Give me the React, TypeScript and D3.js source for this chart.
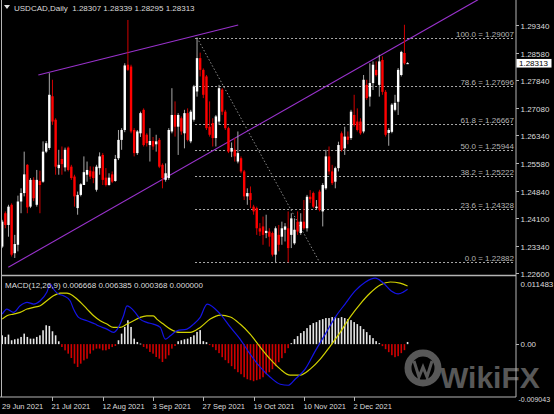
import React from "react";
import * as d3 from "d3";

const W = 554;
const H = 414;

// ---------- DATA ----------
// Daily USDCAD candles [open, high, low, close], 29 Jun 2021 onward
const OHLC: [number, number, number, number][] = [
  [1.2331, 1.2404, 1.2327, 1.2399],
  [1.2422, 1.2427, 1.2381, 1.239],
  [1.239, 1.2445, 1.2358, 1.244],
  [1.2445, 1.2449, 1.2304, 1.2309],
  [1.2313, 1.2363, 1.23, 1.2338],
  [1.2336, 1.247, 1.2318, 1.2454],
  [1.2454, 1.249, 1.2422, 1.2477],
  [1.2477, 1.259, 1.2468, 1.2528],
  [1.2554, 1.2556, 1.2422, 1.2438],
  [1.244, 1.2518, 1.2436, 1.2513],
  [1.2513, 1.252, 1.2455, 1.2463],
  [1.2445, 1.254, 1.244, 1.2513],
  [1.251, 1.2538, 1.2422, 1.2499],
  [1.2508, 1.2618, 1.2505, 1.259],
  [1.259, 1.2619, 1.2586, 1.2613],
  [1.26, 1.2804, 1.2595, 1.2745],
  [1.2741, 1.2786, 1.2663, 1.2672],
  [1.2677, 1.2681, 1.2527, 1.2549],
  [1.2545, 1.2595, 1.2527, 1.2554],
  [1.257, 1.2604, 1.2527, 1.2556],
  [1.2547, 1.2601, 1.2536, 1.2595],
  [1.2601, 1.2604, 1.2536, 1.254],
  [1.2549, 1.2554, 1.2513, 1.2518],
  [1.2522, 1.2527, 1.244, 1.2468],
  [1.2436, 1.2481, 1.2418, 1.2472],
  [1.2472, 1.2504, 1.2468, 1.2501],
  [1.2499, 1.2577, 1.2499, 1.2534],
  [1.2527, 1.2563, 1.2508, 1.254],
  [1.2538, 1.255, 1.2515, 1.2522],
  [1.2536, 1.2549, 1.2504, 1.2518],
  [1.2486, 1.2554, 1.2481, 1.2549],
  [1.2545, 1.2588, 1.2527, 1.2577],
  [1.2581, 1.2586, 1.2499, 1.2513],
  [1.2519, 1.2545, 1.2495, 1.2499],
  [1.2499, 1.2531, 1.2497, 1.2519],
  [1.2528, 1.2536, 1.2504, 1.2508],
  [1.251, 1.2581, 1.2508, 1.257],
  [1.2572, 1.2649, 1.2567, 1.2622],
  [1.2622, 1.2654, 1.2595, 1.2649],
  [1.2649, 1.2831, 1.2643, 1.2825],
  [1.2827, 1.2949, 1.281, 1.2813],
  [1.2822, 1.2827, 1.264, 1.2645],
  [1.2649, 1.2654, 1.2577, 1.2586],
  [1.2586, 1.2649, 1.2581, 1.2645],
  [1.264, 1.2699, 1.263, 1.2695],
  [1.2704, 1.2708, 1.2604, 1.2608],
  [1.2636, 1.264, 1.2604, 1.2613],
  [1.2608, 1.2654, 1.2563, 1.2619],
  [1.2619, 1.263, 1.2595, 1.2604],
  [1.261, 1.2636, 1.259, 1.2618],
  [1.2622, 1.2627, 1.2545, 1.2549],
  [1.2554, 1.2558, 1.249, 1.2518],
  [1.2513, 1.2558, 1.2508, 1.2531],
  [1.2518, 1.2654, 1.2513, 1.2649],
  [1.2645, 1.2763, 1.264, 1.269],
  [1.269, 1.2727, 1.2631, 1.2658],
  [1.2658, 1.2695, 1.2581, 1.269],
  [1.2681, 1.2686, 1.2636, 1.2645],
  [1.264, 1.2704, 1.2599, 1.2695],
  [1.2695, 1.2708, 1.2618, 1.2622],
  [1.2618, 1.2704, 1.2613, 1.2699],
  [1.2677, 1.2772, 1.2672, 1.2768],
  [1.2754, 1.29007, 1.274, 1.2845],
  [1.2845, 1.286, 1.2795, 1.2813],
  [1.2813, 1.2817, 1.2736, 1.2745],
  [1.2795, 1.2799, 1.2649, 1.2654],
  [1.2658, 1.2727, 1.2631, 1.2636],
  [1.2668, 1.2681, 1.2604, 1.2627],
  [1.2627, 1.269, 1.2604, 1.2686],
  [1.2672, 1.2772, 1.2663, 1.2763],
  [1.2759, 1.2763, 1.269, 1.2699],
  [1.2699, 1.2704, 1.2649, 1.2654],
  [1.2654, 1.2658, 1.2586, 1.259],
  [1.259, 1.2615, 1.2575, 1.26],
  [1.2595, 1.2627, 1.2563, 1.2577],
  [1.2563, 1.2645, 1.2558, 1.2586],
  [1.2572, 1.2577, 1.2531, 1.2536],
  [1.2536, 1.254, 1.2458, 1.2468],
  [1.2468, 1.249, 1.2445, 1.2477],
  [1.2477, 1.2495, 1.2436, 1.2458],
  [1.244, 1.2445, 1.2418, 1.2427],
  [1.2436, 1.244, 1.2363, 1.2381],
  [1.2381, 1.2395, 1.236, 1.2372],
  [1.2386, 1.2413, 1.2336, 1.2363],
  [1.2368, 1.2418, 1.2354, 1.2374],
  [1.2372, 1.2381, 1.2331, 1.2358],
  [1.2368, 1.2372, 1.2304, 1.2309],
  [1.2309, 1.2386, 1.2286, 1.2381],
  [1.2363, 1.239, 1.2318, 1.2336],
  [1.2358, 1.2399, 1.2336, 1.2381],
  [1.2377, 1.2395, 1.2345, 1.2386],
  [1.2381, 1.2427, 1.22882, 1.2327],
  [1.2363, 1.2422, 1.2327, 1.2408],
  [1.234, 1.2408, 1.2336, 1.2377],
  [1.2399, 1.2427, 1.2363, 1.2372],
  [1.2368, 1.2422, 1.2363, 1.2399],
  [1.2399, 1.2458, 1.2377, 1.2381],
  [1.2381, 1.2472, 1.2372, 1.2467],
  [1.2467, 1.2485, 1.245, 1.246],
  [1.2477, 1.2481, 1.2436, 1.244],
  [1.2436, 1.2458, 1.2431, 1.244],
  [1.2481, 1.2486, 1.2427, 1.2431],
  [1.2427, 1.2504, 1.2386, 1.2499],
  [1.249, 1.2595, 1.2486, 1.2577],
  [1.2577, 1.2604, 1.2527, 1.2536],
  [1.2536, 1.2554, 1.2499, 1.2504],
  [1.2508, 1.2549, 1.249, 1.2545],
  [1.2545, 1.2617, 1.2536, 1.2608],
  [1.264, 1.2645, 1.259, 1.2595],
  [1.2599, 1.2658, 1.2581, 1.2631],
  [1.2631, 1.2645, 1.261, 1.2622],
  [1.2627, 1.2704, 1.2622, 1.2699],
  [1.269, 1.2745, 1.2658, 1.2663],
  [1.2672, 1.2708, 1.2645, 1.2649],
  [1.2672, 1.2681, 1.2636, 1.264],
  [1.2645, 1.2799, 1.264, 1.2786],
  [1.2772, 1.2786, 1.2731, 1.2736],
  [1.274, 1.2831, 1.2713, 1.2777],
  [1.2777, 1.2836, 1.2758, 1.2827],
  [1.2813, 1.2836, 1.2795, 1.2799],
  [1.2772, 1.2854, 1.274, 1.2836],
  [1.284, 1.285, 1.2745, 1.2753],
  [1.2753, 1.2758, 1.2631, 1.2636],
  [1.2641, 1.2654, 1.2606, 1.2649],
  [1.2644, 1.2722, 1.264, 1.2718],
  [1.2704, 1.2745, 1.27, 1.2723],
  [1.2726, 1.2818, 1.269, 1.2813],
  [1.2799, 1.2865, 1.2795, 1.2862],
  [1.2859, 1.2936, 1.2827, 1.28307],
  [1.28307, 1.28339, 1.28295, 1.28313],
];

const DATE_LABELS = ["29 Jun 2021", "21 Jul 2021", "12 Aug 2021", "3 Sep 2021", "27 Sep 2021", "19 Oct 2021", "10 Nov 2021", "2 Dec 2021"];
const DATE_BARS = [0, 16, 32, 48, 64, 80, 96, 112];

const PRICE_TICKS = [1.2934, 1.2858, 1.2784, 1.2708, 1.2634, 1.2558, 1.2484, 1.241, 1.2334, 1.226];
const LAST_PRICE = 1.28313;

const FIB_LEVELS = [100.0, 78.6, 61.8, 50.0, 38.2, 23.6, 0.0];
const FIB_PRICES = [1.29007, 1.27696, 1.26667, 1.25944, 1.25222, 1.24328, 1.22882];
const FIB_ANCHOR_BARS = [62, 101];

// trend lines: [barIndex, price]
const UPPER_TREND: [number, number][] = [[11.5, 1.2799], [75.1, 1.29353]];
const LOWER_TREND: [number, number][] = [[1.94, 1.22746], [151.4, 1.30043]];

// MACD main & signal lines: [barIndex, value]
const MACD_MAIN: [number, number][] = [
  [0, 0.00514], [1.5, 0.006], [3.6, 0.00543], [5.7, 0.00656], [7.9, 0.00715], [10, 0.00686], [12.1, 0.00742],
  [14.2, 0.00886], [15.3, 0.01028], [16.3, 0.00943], [17.9, 0.00857], [19.5, 0.00828], [21.6, 0.00742],
  [22.7, 0.006], [24.3, 0.00458], [27, 0.00399], [29.6, 0.00343], [30.6, 0.00314], [33.3, 0.00257],
  [35.4, 0.002], [37, 0.00286], [38.6, 0.00485], [39.7, 0.00656], [40.7, 0.00629], [42.3, 0.00543],
  [43.9, 0.00428], [46, 0.00372], [48.1, 0.00343], [50.3, 0.00286], [51.9, 0.00086], [53.5, 0.00142],
  [55.6, 0.00228], [58.8, 0.00257], [60.9, 0.00343], [63, 0.00458], [65.2, 0.00686], [69.4, 0.00514],
  [72.6, 0.00291], [75.7, 0.00086], [78.9, -0.00171], [82.1, -0.00394], [85.3, -0.00566], [88.5, -0.00686],
  [91, -0.00703], [93.2, -0.006], [96.4, -0.00428], [99.6, -0.0012], [102.8, 0.00171], [106, 0.00463],
  [109.1, 0.00686], [112.3, 0.0091], [115.5, 0.0106], [118.7, 0.0113], [121.2, 0.0105], [123.8, 0.0091],
  [126, 0.0086], [127.6, 0.0089], [129, 0.0094],
];
const MACD_SIGNAL: [number, number][] = [
  [0, 0.00428], [1.5, 0.00485], [3.6, 0.00514], [5.7, 0.00543], [7.9, 0.006], [10, 0.00629], [12.1, 0.00656],
  [14.2, 0.00742], [16.3, 0.00828], [18.5, 0.00874], [20.6, 0.00874], [21.6, 0.00857], [23.8, 0.00771],
  [27, 0.006], [29.1, 0.00485], [31.2, 0.00399], [33.3, 0.00343], [35.4, 0.00286], [37.5, 0.00286],
  [39.7, 0.00343], [41.8, 0.00399], [43.9, 0.00458], [46, 0.00485], [48.1, 0.00485], [49.2, 0.00428],
  [51.3, 0.00343], [53.5, 0.00257], [56.6, 0.002], [59.8, 0.002], [63, 0.00286], [66.2, 0.00428],
  [69.4, 0.00497], [72.6, 0.00463], [75.7, 0.00343], [78.9, 0.00171], [82.1, -0.00051], [85.3, -0.00257],
  [88.5, -0.00428], [91.6, -0.00531], [94.8, -0.00531], [98, -0.00428], [101.2, -0.00257], [104.4, -0.00034],
  [107.6, 0.00206], [110.7, 0.00463], [113.9, 0.00686], [117.1, 0.00874], [120.3, 0.01011], [123.5, 0.01063],
  [126.6, 0.01045], [129, 0.00994],
];
// histogram, one value per bar (x 1e-4)
const MACD_HIST = [
  15.1, 12.3, 16.3, 6.6, 8.3, 9.4, 12.3, 18.0, 12.3, 9.4, 9.4, 12.3, 15.1, 23.7, 32.3, 31.1, 22, 15.1, 4.9,
  -4.9, -10.6, -16.3, -23.7, -33.4, -39.1, -33.4, -27.7, -24.9, -16.3, -10.6, -7.7, -7.7, -10.6, -10.6, -8.5,
  -5, -3.1, 6.6, 18.0, 29.4, 40.8, 29.4, 9.4, 3.7, 0.9, -4.9, -7.7, -13.4, -16.3, -22.0, -24.9, -30.6, -25,
  -19.1, -7.7, -3.1, 4.9, 6.6, 8.3, 9.4, 12.3, 15.1, 20.9, 24, 5.1, 3.4, -1.7, -5.1, -10.3, -15.4, -22.3,
  -27.4, -32.6, -37.7, -42.8, -48, -51.4, -56.6, -60, -61.7, -63.4, -61.7, -60, -56.6, -51.4, -48, -42.8,
  -37.7, -30.9, -24, -15.4, -6.9, 1.7, 8.6, 13.7, 18.9, 22.3, 27.4, 32.6, 36, 37.7, 41.1, 42.8, 44.6, 44.6,
  46.3, 46.3, 44.6, 46.3, 44.6, 42.8, 41.1, 37.7, 34.3, 30.9, 25.7, 20.6, 15.4, 10.3, 5.1, 1.7, -3.4, -8.6,
  -13.7, -18.9, -22.3, -20.6, -15.4, -10.3, 3.7,
];
const MACD_MAX = 0.011483;
const MACD_MIN = -0.009043;
const MACD_TITLE = "MACD(12,26,9) 0.006668 0.006385 0.000368 0.000000";
const CHART_TITLE = "USDCAD,Daily  1.28307 1.28339 1.28295 1.28313";
const WATERMARK = "WikiFX";

// ---------- LAYOUT ----------
const LEFT = 1.5;
const AXIS_X = 516;
const MAIN_BOTTOM = 275.5;
const MACD_TOP = 277;
const MACD_BOTTOM = 397;
const FONT = "'Liberation Sans', Arial, sans-serif";
const TXT = "#dcdcdc";

export default function App() {
  const n = OHLC.length;
  const x = d3.scaleLinear().domain([0, n - 1]).range([2.2, 2.2 + (n - 1) * 3.1425]);
  const yP = d3.scaleLinear().domain([1.22882, 1.29007]).range([262.3, 37.7]);
  const yM = d3.scaleLinear().domain([MACD_MIN, MACD_MAX]).range([MACD_BOTTOM, MACD_TOP]);

  const lineMacd = d3
    .line<[number, number]>()
    .x((d) => x(d[0]))
    .y((d) => yM(d[1]))
    .curve(d3.curveMonotoneX);

  const bodyW = 2.4;
  const fibX0 = x(FIB_ANCHOR_BARS[0]) - 2;

  return (
    <svg width={W} height={H} style={{ position: "absolute", left: 0, top: 0, background: "#000" }}>
      <defs>
        <clipPath id="mainClip">
          <rect x={LEFT + 0.5} y={0} width={AXIS_X - LEFT - 1} height={MAIN_BOTTOM - 0.5} />
        </clipPath>
        <clipPath id="macdClip">
          <rect x={LEFT + 0.5} y={MACD_TOP} width={AXIS_X - LEFT - 1} height={MACD_BOTTOM - MACD_TOP} />
        </clipPath>
      </defs>
      <rect x={0} y={0} width={W} height={H} fill="#000" />

      {/* main panel */}
      <g clipPath="url(#mainClip)">
        {FIB_PRICES.map((p, k) => (
          <line key={"fl" + k} x1={fibX0} x2={514} y1={Math.round(yP(p)) + 0.5} y2={Math.round(yP(p)) + 0.5}
            stroke="#a8a8a8" strokeWidth={1} strokeDasharray="2,2" />
        ))}
        <line x1={x(FIB_ANCHOR_BARS[0])} y1={yP(FIB_PRICES[0])} x2={x(FIB_ANCHOR_BARS[1])} y2={yP(FIB_PRICES[FIB_PRICES.length - 1])}
          stroke="#8c8c8c" strokeWidth={1} strokeDasharray="1.5,2" />
        {FIB_PRICES.map((p, k) => (
          <text key={"ft" + k} x={514} y={Math.round(yP(p)) - 1.5} textAnchor="end" fontFamily={FONT} fontSize={8}
            fill="#b4b4b4">{`${FIB_LEVELS[k].toFixed(1)} = ${p.toFixed(5)}`}</text>
        ))}

        <line x1={x(UPPER_TREND[0][0])} y1={yP(UPPER_TREND[0][1])} x2={x(UPPER_TREND[1][0])} y2={yP(UPPER_TREND[1][1])}
          stroke="#9932cc" strokeWidth={1.1} />
        <line x1={x(LOWER_TREND[0][0])} y1={yP(LOWER_TREND[0][1])} x2={x(LOWER_TREND[1][0])} y2={yP(LOWER_TREND[1][1])}
          stroke="#9932cc" strokeWidth={1.1} />

        {OHLC.map((d, i) => {
          const [o, h, l, c] = d;
          const up = c >= o;
          const cx = x(i);
          const top = yP(Math.max(o, c));
          const bh = Math.max(1, yP(Math.min(o, c)) - top);
          return (
            <g key={"c" + i}>
              <line x1={cx} x2={cx} y1={yP(h)} y2={yP(l)} stroke={up ? "#a8a8a8" : "#d00000"} strokeWidth={1} />
              <rect x={cx - bodyW / 2} y={top} width={bodyW} height={bh} fill={up ? "#ffffff" : "#ff0000"} />
            </g>
          );
        })}
      </g>

      {/* macd panel */}
      <g clipPath="url(#macdClip)">
        {MACD_HIST.map((v, i) => {
          const val = v * 1e-4;
          const y0 = yM(0);
          const y1 = yM(val);
          return (
            <rect key={"h" + i} x={x(i) - 0.8} y={Math.min(y0, y1)} width={1.6} height={Math.max(0.8, Math.abs(y1 - y0))}
              fill={val >= 0 ? "#e6e6e6" : "#d00000"} />
          );
        })}
        <path d={lineMacd(MACD_SIGNAL) || ""} fill="none" stroke="#d2d200" strokeWidth={1.2} />
        <path d={lineMacd(MACD_MAIN) || ""} fill="none" stroke="#1414e6" strokeWidth={1.2} />
      </g>

      {/* watermark */}
      <g opacity={0.55}>
        <circle cx={423} cy={368} r={15} fill="none" stroke="#a0a0a0" strokeWidth={7} />
        <path d="M414,361 L419,377 L423,367 L427,377 L432,361" fill="none" stroke="#a0a0a0" strokeWidth={3} />
        <text x={440} y={388} fontFamily={FONT} fontWeight="bold" fontSize={30} fill="#a0a0a0">{WATERMARK}</text>
      </g>

      {/* frames */}
      <line x1={LEFT} x2={LEFT} y1={0} y2={MACD_BOTTOM} stroke="#b4b4b4" strokeWidth={1} />
      <line x1={AXIS_X} x2={AXIS_X} y1={0} y2={MACD_BOTTOM} stroke="#b4b4b4" strokeWidth={1} />
      <line x1={LEFT} x2={AXIS_X} y1={MAIN_BOTTOM} y2={MAIN_BOTTOM} stroke="#b4b4b4" strokeWidth={1.5} />
      <line x1={0} x2={AXIS_X} y1={MACD_BOTTOM} y2={MACD_BOTTOM} stroke="#b4b4b4" strokeWidth={1} />

      {/* price axis */}
      {PRICE_TICKS.map((p, k) => {
        const yy = Math.round(yP(p)) + 0.5;
        return (
          <g key={"pt" + k}>
            <line x1={AXIS_X} x2={AXIS_X + 3} y1={yy} y2={yy} stroke="#b4b4b4" />
            <text x={520.5} y={yy + 3} fontFamily={FONT} fontSize={8} fill={TXT}>{p.toFixed(5)}</text>
          </g>
        );
      })}
      <rect x={516.5} y={yP(LAST_PRICE) - 4.2} width={35} height={8.6} fill="#ffffff" />
      <text x={519} y={yP(LAST_PRICE) + 3} fontFamily={FONT} fontSize={8} fill="#000">{LAST_PRICE.toFixed(5)}</text>

      {/* macd axis */}
      <text x={520.5} y={MACD_TOP + 10} fontFamily={FONT} fontSize={8} fill={TXT}>{MACD_MAX.toFixed(6)}</text>
      <line x1={AXIS_X} x2={AXIS_X + 3} y1={Math.round(yM(0)) + 0.5} y2={Math.round(yM(0)) + 0.5} stroke="#b4b4b4" />
      <text x={520.5} y={yM(0) + 3} fontFamily={FONT} fontSize={8} fill={TXT}>0.00</text>
      <text x={518.5} y={MACD_BOTTOM + 4.5} fontFamily={FONT} fontSize={7} fill={TXT}>{MACD_MIN.toFixed(6)}</text>

      {/* date axis */}
      {DATE_BARS.map((b, k) => {
        const xx = Math.round(x(b)) + 0.5;
        return (
          <g key={"d" + k}>
            {k > 0 && <line x1={xx} x2={xx} y1={MACD_BOTTOM} y2={MACD_BOTTOM + 4} stroke="#b4b4b4" />}
            <text x={k === 0 ? 2 : xx - 1} y={409} fontFamily={FONT} fontSize={7.5} fill={TXT}>{DATE_LABELS[k]}</text>
          </g>
        );
      })}

      {/* titles */}
      <path d="M4,5 L10,5 L7,9 Z" fill="#e0e0e0" />
      <text x={14} y={11} fontFamily={FONT} fontSize={8} fill={TXT} xmlSpace="preserve">{CHART_TITLE}</text>
      <text x={5} y={287.5} fontFamily={FONT} fontSize={8} fill={TXT}>{MACD_TITLE}</text>
    </svg>
  );
}
